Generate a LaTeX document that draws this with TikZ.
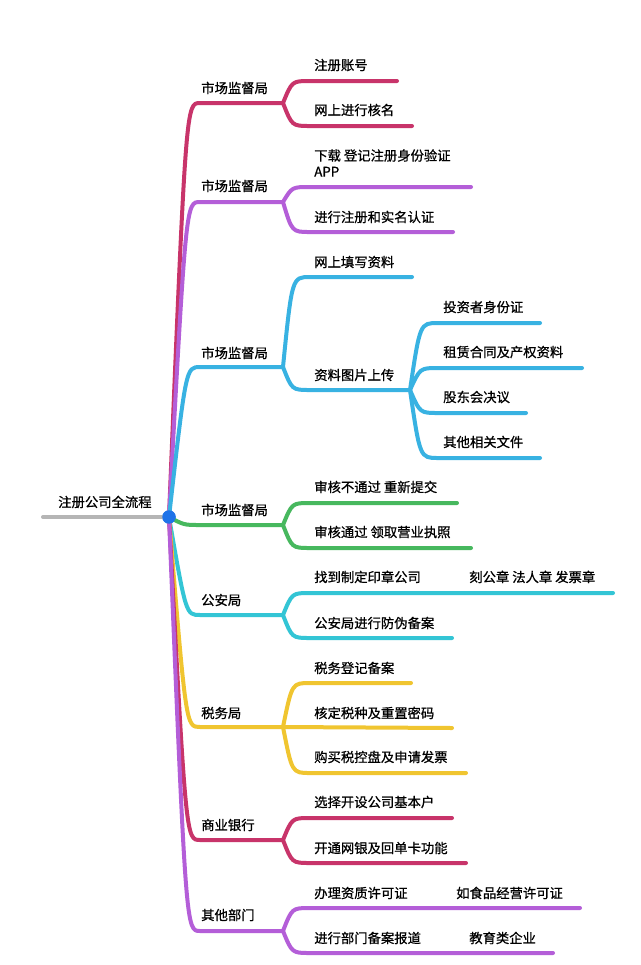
\documentclass[tikz,border=0pt]{standalone}
\usepackage{fontspec}
\setmainfont{Noto Sans CJK SC}[FakeBold=0.8]
\definecolor{cCrim}{HTML}{C8346A}
\definecolor{cPurp}{HTML}{B45ED8}
\definecolor{cBlue}{HTML}{38B2E2}
\definecolor{cGreen}{HTML}{47B85E}
\definecolor{cCyan}{HTML}{33C5D5}
\definecolor{cYell}{HTML}{F0C530}
\definecolor{cGray}{HTML}{B5B5B5}
\definecolor{cDot}{HTML}{1F73E8}
\begin{document}
\begin{tikzpicture}[x=0.75pt,y=-0.75pt,
  wire/.style={line width=3pt, line cap=round, line join=round},
  lbl/.style={anchor=west, inner sep=0pt, font=\fontsize{10}{12}\selectfont, text height=0.88em, text depth=0.12em},
  hub/.style={circle, fill=cDot, inner sep=0pt, minimum size=10pt}]
\useasboundingbox (0,0) rectangle (640,965);
\fill[white] (0,0) rectangle (640,965);

% ---- coordinates ----
\coordinate (rs) at (43,517);
\coordinate (c1) at (283,103);
\coordinate (c2) at (283,202);
\coordinate (c3) at (283,367);
\coordinate (c4) at (283,525);
\coordinate (c5) at (283,615);
\coordinate (c6) at (283,727);
\coordinate (c7) at (283,840);
\coordinate (c8) at (283,931);
\coordinate (c32) at (410,390);
% ends
\coordinate (a11) at (397,81);
\coordinate (a12) at (412,126);
\coordinate (a21) at (471,187);
\coordinate (a22) at (453,232);
\coordinate (a31) at (412,277);
\coordinate (b1) at (540,323);
\coordinate (b2) at (582,368);
\coordinate (b3) at (526,413);
\coordinate (b4) at (540,458);
\coordinate (a41) at (457,503);
\coordinate (a42) at (471,548);
\coordinate (a51) at (613,593);
\coordinate (a52) at (452,638);
\coordinate (a61) at (411,683);
\coordinate (a62) at (452,728);
\coordinate (a63) at (466,773);
\coordinate (a71) at (452,818);
\coordinate (a72) at (466,863);
\coordinate (a81) at (580,908);
\coordinate (a82) at (553,953);

\node[hub] (root) at (169,517) {};

% ---- root line ----
\draw[wire, cGray] (rs) -- (root.center);

% ---- level 1 ----
\draw[wire, cCrim] (root.center) .. controls (186,103) and (186,103) .. (200,103) -- (c1);
\draw[wire, cPurp] (root.center) .. controls (186,202) and (186,202) .. (200,202) -- (c2);
\draw[wire, cBlue] (root.center) .. controls (186,367) and (186,367) .. (200,367) -- (c3);
\draw[wire, cGreen] (root.center) .. controls (184,525) and (184,525) .. (200,525) -- (c4);
\draw[wire, cCyan] (root.center) .. controls (186,615) and (186,615) .. (200,615) -- (c5);
\draw[wire, cYell] (root.center) .. controls (186,727) and (186,727) .. (200,727) -- (c6);
\draw[wire, cCrim] (root.center) .. controls (186,840) and (186,840) .. (200,840) -- (c7);
\draw[wire, cPurp] (root.center) .. controls (186,931) and (186,931) .. (200,931) -- (c8);

% ---- level 2 ----
\draw[wire, cCrim] (c1) .. controls (292,81) and (292,81) .. (310,81) -- (a11);
\draw[wire, cCrim] (c1) .. controls (292,126) and (292,126) .. (310,126) -- (a12);
\draw[wire, cPurp] (c2) .. controls (292,187) and (292,187) .. (310,187) -- (a21);
\draw[wire, cPurp] (c2) .. controls (292,232) and (292,232) .. (310,232) -- (a22);
\draw[wire, cBlue] (c3) .. controls (292,277) and (292,277) .. (310,277) -- (a31);
\draw[wire, cBlue] (c3) .. controls (292,390) and (292,390) .. (310,390) -- (c32);
\draw[wire, cBlue] (c32) .. controls (420,323) and (420,323) .. (438,323) -- (b1);
\draw[wire, cBlue] (c32) .. controls (420,368) and (420,368) .. (438,368) -- (b2);
\draw[wire, cBlue] (c32) .. controls (420,413) and (420,413) .. (438,413) -- (b3);
\draw[wire, cBlue] (c32) .. controls (420,458) and (420,458) .. (438,458) -- (b4);
\draw[wire, cGreen] (c4) .. controls (292,503) and (292,503) .. (310,503) -- (a41);
\draw[wire, cGreen] (c4) .. controls (292,548) and (292,548) .. (310,548) -- (a42);
\draw[wire, cCyan] (c5) .. controls (292,593) and (292,593) .. (310,593) -- (a51);
\draw[wire, cCyan] (c5) .. controls (292,638) and (292,638) .. (310,638) -- (a52);
\draw[wire, cYell] (c6) .. controls (292,683) and (292,683) .. (310,683) -- (a61);
\draw[wire, cYell] (c6) -- (a62);
\draw[wire, cYell] (c6) .. controls (292,773) and (292,773) .. (310,773) -- (a63);
\draw[wire, cCrim] (c7) .. controls (292,818) and (292,818) .. (310,818) -- (a71);
\draw[wire, cCrim] (c7) .. controls (292,863) and (292,863) .. (310,863) -- (a72);
\draw[wire, cPurp] (c8) .. controls (292,908) and (292,908) .. (310,908) -- (a81);
\draw[wire, cPurp] (c8) .. controls (292,953) and (292,953) .. (310,953) -- (a82);

\node[hub] at (root) {};

% ---- labels ----
\node[lbl] (t0) at (58,502) {注册公司全流程};
\node[lbl] (t1) at (201,88) {市场监督局};
\node[lbl] (t2) at (201,186) {市场监督局};
\node[lbl] (t3) at (201,353) {市场监督局};
\node[lbl] (t4) at (201,510) {市场监督局};
\node[lbl] (t5) at (201,600) {公安局};
\node[lbl] (t6) at (201,713) {税务局};
\node[lbl] (t7) at (201,825) {商业银行};
\node[lbl] (t8) at (201,915) {其他部门};

\node[lbl] (t11) at (314,65) {注册账号};
\node[lbl] (t12) at (314,110) {网上进行核名};
\node[anchor=north west, inner sep=0pt, align=left, font=\fontsize{10}{12}\selectfont] (t21) at (314,149) {下载 登记注册身份验证\\APP};
\node[lbl] (t22) at (314,217) {进行注册和实名认证};
\node[lbl] (t31) at (314,262) {网上填写资料};
\node[lbl] (t32) at (314,375) {资料图片上传};
\node[lbl] (s1) at (443,307) {投资者身份证};
\node[lbl] (s2) at (443,352) {租赁合同及产权资料};
\node[lbl] (s3) at (443,397) {股东会决议};
\node[lbl] (s4) at (443,442) {其他相关文件};
\node[lbl] (t41) at (314,487) {审核不通过 重新提交};
\node[lbl] (t42) at (314,532) {审核通过 领取营业执照};
\node[lbl] (t51) at (314,577) {找到制定印章公司};
\node[lbl] (t51b) at (469,577) {刻公章 法人章 发票章};
\node[lbl] (t52) at (314,623) {公安局进行防伪备案};
\node[lbl] (t61) at (314,668) {税务登记备案};
\node[lbl] (t62) at (314,713) {核定税种及重置密码};
\node[lbl] (t63) at (314,757) {购买税控盘及申请发票};
\node[lbl] (t71) at (314,802) {选择开设公司基本户};
\node[lbl] (t72) at (314,848) {开通网银及回单卡功能};
\node[lbl] (t81) at (314,893) {办理资质许可证};
\node[lbl] (t81b) at (456,893) {如食品经营许可证};
\node[lbl] (t82) at (314,938) {进行部门备案报道};
\node[lbl] (t82b) at (469,938) {教育类企业};
\end{tikzpicture}
\end{document}
